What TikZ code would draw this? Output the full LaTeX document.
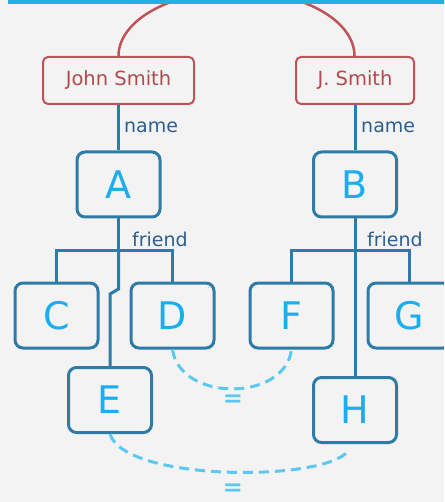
\documentclass[tikz,border=0pt]{standalone}
\usepackage{fontspec}
\setmainfont{DejaVu Sans}
\definecolor{bgc}{HTML}{F3F3F3}
\definecolor{barc}{HTML}{22B0DD}
\definecolor{redline}{HTML}{BE5457}
\definecolor{redtext}{HTML}{B04A4D}
\definecolor{steel}{HTML}{2E7BA8}
\definecolor{letter}{HTML}{1AADF0}
\definecolor{lbl}{HTML}{2F5F8F}
\definecolor{eqc}{HTML}{5CC8F2}
\tikzset{
  namebox/.style={draw=redline, line width=2pt, rounded corners=5pt, fill=bgc,
    minimum height=47pt, inner sep=0pt, text=redtext,
    font=\fontsize{19.5}{22}\selectfont},
  entity/.style={draw=steel, line width=3pt, rounded corners=8pt, fill=bgc,
    minimum width=83pt, minimum height=65pt, inner sep=0pt, text=letter,
    font=\fontsize{38}{40}\selectfont},
  link/.style={draw=steel, line width=3pt},
  sameas/.style={draw=redline, line width=2.5pt},
  equiv/.style={draw=eqc, line width=3pt, dash pattern=on 10pt off 6pt},
  edgelabel/.style={text=lbl, anchor=west, inner sep=0pt,
    font=\fontsize{19}{21}\selectfont},
  eqlabel/.style={text=eqc, inner sep=0pt, font=\bfseries\fontsize{24}{26}\selectfont}
}
\begin{document}
\begin{tikzpicture}[x=1pt, y=-1pt]
  \useasboundingbox (0,0) rectangle (444,502);
  \fill[bgc] (0,0) rectangle (444,502);
  \begin{scope}
    \clip (0,0) rectangle (444,502);

    % literal name nodes
    \node[namebox, minimum width=151pt] (js) at (118.5,80.5) {John Smith};
    \node[namebox, minimum width=118pt] (jsm) at (355,80.5) {J. Smith};

    % arc joining the two names
    \draw[sameas] (js.north) arc[start angle=180, end angle=0, x radius=118pt, y radius=65pt];

    % entities
    \node[entity] (A) at (118.5,184.5) {A};
    \node[entity] (B) at (355,184.5) {B};
    \node[entity] (C) at (56.5,315.5) {C};
    \node[entity] (D) at (172.5,315.5) {D};
    \node[entity] (F) at (291.5,315.5) {F};
    \node[entity] (G) at (409.5,315.5) {G};
    \node[entity] (E) at (110,400) {E};
    \node[entity] (H) at (355,410) {H};

    % name edges
    \draw[link] (js.south) -- (A.north);
    \draw[link] (jsm.south) -- (B.north);
    \node[edgelabel] (n1) at (124,127) {name};
    \node[edgelabel] (n2) at (361,127) {name};

    % friend edges of A
    \coordinate (ab) at (118.5,250);
    \coordinate (aj1) at (118.5,289);
    \coordinate (aj2) at (110,294);
    \draw[link] (A.south) -- (ab);
    \draw[link] (C.north) |- (ab) -| (D.north);
    \draw[link] (ab) -- (aj1) -- (aj2) -- (E.north);
    \node[edgelabel] (f1) at (132,239) {friend};

    % friend edges of B
    \coordinate (bb) at (355,250);
    \draw[link] (B.south) -- (H.north);
    \draw[link] (F.north) |- (bb) -| (G.north);
    \node[edgelabel] (f2) at (367,239) {friend};

    % equivalences
    \draw[equiv] (D.south) .. controls (180,402) and (285,402) .. (F.south);
    \node[eqlabel] (eq1) at (233,401) {=};
    \coordinate (hend) at (348,451);
    \draw[equiv] (E.south) .. controls (125,482) and (325,482) .. (hend);
    \node[eqlabel] (eq2) at (233,490) {=};

    % header bar
    \fill[barc] (8,-2) rectangle (446,4);
  \end{scope}
\end{tikzpicture}
\end{document}
